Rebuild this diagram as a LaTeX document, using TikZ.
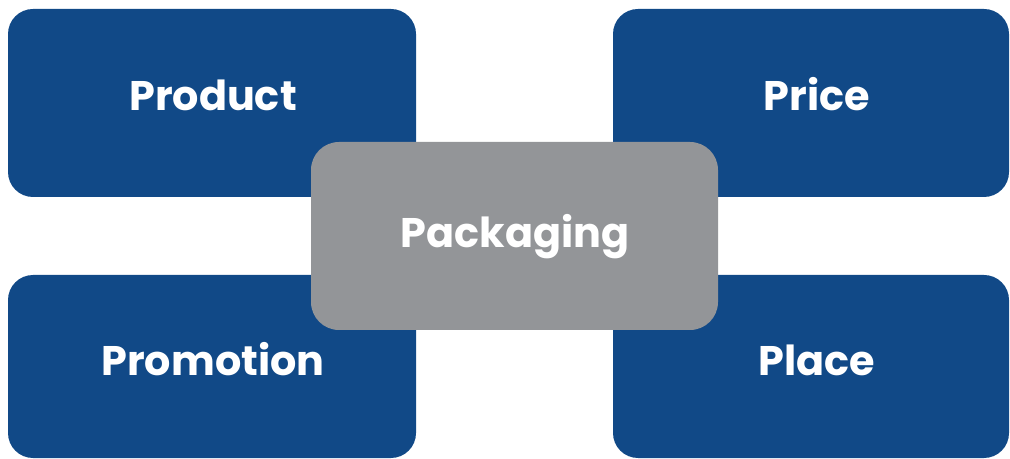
\documentclass[tikz,border=0pt]{standalone}
\usepackage{fontspec}
\setmainfont{Poppins}
\definecolor{boxblue}{HTML}{114987}
\definecolor{boxgray}{HTML}{939598}
\tikzset{
  card/.style={rounded corners=25bp, fill=boxblue, draw=none},
  centercard/.style={rounded corners=28bp, fill=boxgray, draw=none},
  lbl/.style={text=white, font=\fontsize{41.5}{48}\selectfont\bfseries, inner sep=0pt, anchor=base}
}
\begin{document}
\begin{tikzpicture}[x=1bp,y=-1bp]
\useasboundingbox (0,0) rectangle (1010,459);
\path[card] (8,9) rectangle (416,197);
\path[card] (613,9) rectangle (1009,197);
\path[card] (8,275) rectangle (416,458);
\path[card] (613,275) rectangle (1009,458);
\path[centercard] (311,142) rectangle (718,330);
\node[lbl] (product) at (213,111) {Product};
\node[lbl] (price) at (817,111) {Price};
\node[lbl] (promotion) at (213,376) {Promotion};
\node[lbl] (place) at (817,376) {Place};
\node[lbl] (packaging) at (515,248) {Packaging};
\end{tikzpicture}
\end{document}
